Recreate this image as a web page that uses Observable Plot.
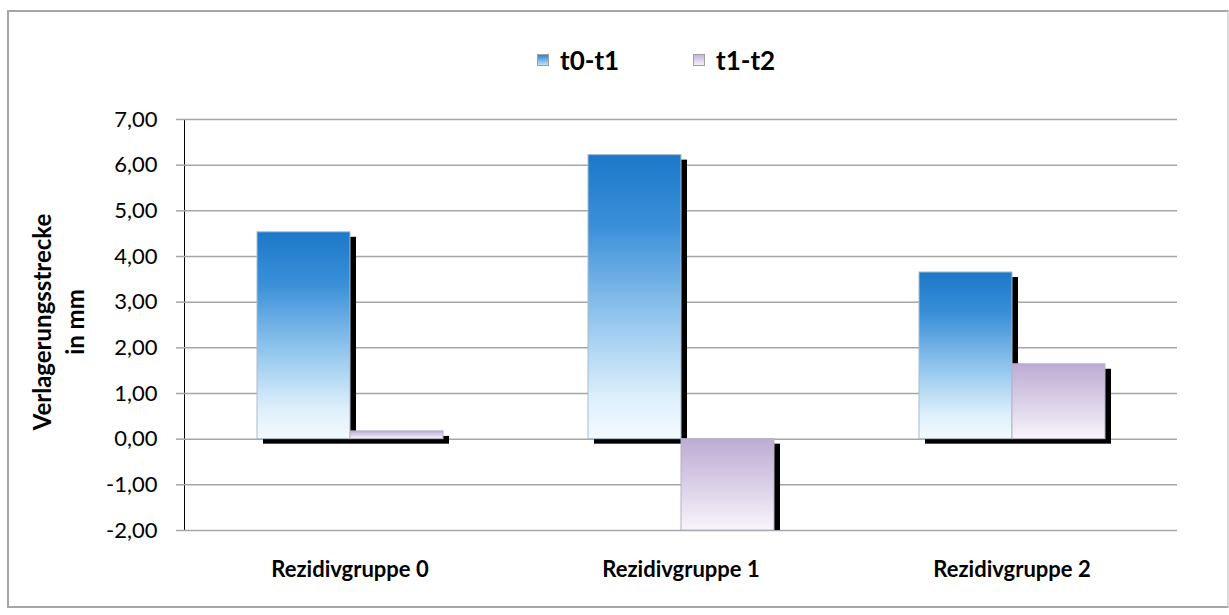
<!DOCTYPE html>
<html>
<head>
<meta charset="utf-8">
<script src="https://cdn.jsdelivr.net/npm/d3@7"></script>
<script src="https://cdn.jsdelivr.net/npm/@observablehq/plot@0.6"></script>
<style>
  html, body { margin: 0; padding: 0; background: #fff; }
  #wrap { position: relative; width: 1229px; height: 615px; overflow: hidden; font-family: Lato, "Liberation Sans", sans-serif; }
  #border { position: absolute; left: 7px; top: 10px; width: 1218px; height: 594px; border: 2px solid #a6a6a6; border-right-color: #d9d9d9; }
  #chart { position: absolute; left: 0; top: 0; }
  #legend { position: absolute; top: 45px; left: 0; width: 1229px; height: 30px; }
  .lg { position: absolute; top: 0; display: flex; align-items: center; font-weight: bold; font-size: 26px; color: #000; height: 30px; }
  .sw { width: 12px; height: 12px; margin-right: 11px; border: 1px solid #a0a0a0; box-sizing: border-box; }
  #ytitle { position: absolute; left: 58px; top: 322px; transform: translate(-50%, -50%) rotate(-90deg); text-align: center; font-weight: bold; font-size: 24px; line-height: 33px; white-space: nowrap; color: #000; }
  [aria-label^="y-axis"] { color: #a6a6a6; }
  [aria-label^="y-axis"] path, [aria-label^="y-axis"] line { stroke: #a6a6a6; stroke-width: 1.5px; }
  [aria-label^="y-axis"] text { fill: #000; }
  [aria-label^="fx-axis"] text { font-weight: bold; fill: #000; }
</style>
</head>
<body>
<svg width="0" height="0" style="position:absolute">
  <defs>
    <linearGradient id="gBlue" x1="0" y1="0" x2="0" y2="1">
      <stop offset="0" stop-color="#1c78c9"/>
      <stop offset="0.25" stop-color="#3a8fd8"/>
      <stop offset="0.55" stop-color="#8cc2ec"/>
      <stop offset="0.85" stop-color="#dceffb"/>
      <stop offset="1" stop-color="#f4fafe"/>
    </linearGradient>
    <linearGradient id="gPurple" x1="0" y1="0" x2="0" y2="1">
      <stop offset="0" stop-color="#bcacd4"/>
      <stop offset="0.5" stop-color="#d9cfe6"/>
      <stop offset="1" stop-color="#f8f5fc"/>
    </linearGradient>
  </defs>
</svg>
<div id="wrap">
  <div id="border"></div>
  <div id="chart"></div>
  <div id="legend">
    <div class="lg" style="left:537px"><div class="sw" style="background:linear-gradient(#2a86d4,#bfe0f7)"></div>t0-t1</div>
    <div class="lg" style="left:693px"><div class="sw" style="background:linear-gradient(#c4b6da,#f4f0f9)"></div>t1-t2</div>
  </div>
  <div id="ytitle">Verlagerungsstrecke<br>in mm</div>
</div>
<script>
const categories = ["Rezidivgruppe 0", "Rezidivgruppe 1", "Rezidivgruppe 2"];
const seriesNames = ["t0-t1", "t1-t2"];
const valuesT0T1 = [4.53, 6.22, 3.65];
const valuesT1T2 = [0.17, -2.00, 1.64];
const yTicks = [-2, -1, 0, 1, 2, 3, 4, 5, 6, 7];

const data = categories.flatMap((c, i) => [
  {cat: c, series: seriesNames[0], value: valuesT0T1[i]},
  {cat: c, series: seriesNames[1], value: valuesT1T2[i]}
]);
const fmt = d => d.toFixed(2).replace(".", ",");

const chart = Plot.plot({
  width: 1229,
  height: 615,
  marginLeft: 183,
  marginRight: 51,
  marginTop: 119,
  marginBottom: 85,
  style: {fontFamily: "Lato, 'Liberation Sans', sans-serif", fontSize: "22px", background: "transparent", color: "#000"},
  fx: {domain: categories, padding: 0, label: null, axis: "bottom", tickSize: 0, tickPadding: 31},
  x: {domain: seriesNames, paddingInner: 0, paddingOuter: 0.766, axis: null},
  y: {domain: [-2, 7], ticks: yTicks, tickFormat: fmt, tickSize: 8, tickPadding: 19, label: null, line: true},
  marks: [
    Plot.ruleY(yTicks, {stroke: "#a6a6a6", strokeWidth: 1.5}),
    Plot.barY(data, {fx: "cat", x: "series", y: "value", fill: "#000", dx: 6, dy: 5, clip: true}),
    Plot.barY(data.filter(d => d.series === seriesNames[0]), {fx: "cat", x: "series", y: "value", fill: "url(#gBlue)", stroke: "#a9bccc", strokeWidth: 1}),
    Plot.barY(data.filter(d => d.series === seriesNames[1]), {fx: "cat", x: "series", y: "value", fill: "url(#gPurple)", stroke: "#b8b0c4", strokeWidth: 1})
  ]
});
document.getElementById("chart").appendChild(chart);
</script>
</body>
</html>
